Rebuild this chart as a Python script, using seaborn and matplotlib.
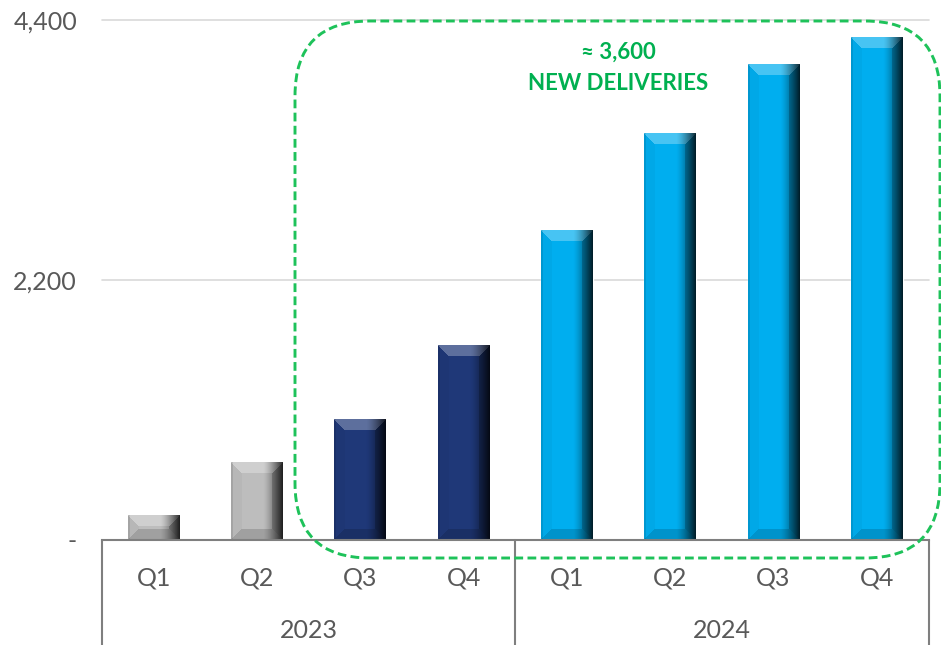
import numpy as np
import pandas as pd
import matplotlib
matplotlib.use('Agg')
import matplotlib.pyplot as plt
import seaborn as sns
from matplotlib.patches import FancyBboxPatch
from matplotlib.transforms import IdentityTransform

# ---- data ----
years = ['2023', '2023', '2023', '2023', '2024', '2024', '2024', '2024']
quarters = ['Q1', 'Q2', 'Q3', 'Q4', 'Q1', 'Q2', 'Q3', 'Q4']
values = [210, 655, 1020, 1645, 2615, 3440, 4025, 4250]
bar_colors = ['#BDBDBD', '#BDBDBD', '#1F3878', '#1F3878',
              '#00AEEF', '#00AEEF', '#00AEEF', '#00AEEF']
yticks = [0, 2200, 4400]
ytick_labels = ['-', '2,200', '4,400']
annotation = ['≈ 3,600', 'NEW DELIVERIES']

sns.set_theme(style='white')
plt.rcParams['font.family'] = ['Lato', 'DejaVu Sans']

W, H = 941, 645
fig = plt.figure(figsize=(W / 100, H / 100), dpi=100)
ax_left, ax_right, ax_top, ax_bottom = 102, 928.5, 20, 540
ax = fig.add_axes([ax_left / W, 1 - ax_bottom / H,
                   (ax_right - ax_left) / W, (ax_bottom - ax_top) / H])

df = pd.DataFrame({'key': [f'{y} {q}' for y, q in zip(years, quarters)],
                   'value': values})
sns.barplot(data=df, x='key', y='value', hue='key', palette=bar_colors,
            width=0.5, legend=False, ax=ax, saturation=1, zorder=2)

ax.set_xlim(-0.5, len(values) - 0.5)
ax.set_ylim(0, yticks[-1])

# bevel shading on each bar
for p in list(ax.patches):
    bb = p.get_bbox()
    x0, y0, x1, y1 = bb.x0, bb.y0, bb.x1, bb.y1
    (dx0, dy0), (dx1, dy1) = ax.transData.transform([[x0, y0], [x1, y1]])
    pw = max(int(round(dx1 - dx0)), 2)
    ph = max(int(round(dy1 - dy0)), 2)
    base = np.array(p.get_facecolor()[:3])
    i = np.arange(ph)[:, None] * np.ones((1, pw))
    j = np.ones((ph, 1)) * np.arange(pw)[None, :]
    dt, db, dl, dr = i, ph - 1 - i, j, pw - 1 - j
    stack = np.stack([dt, db, dl, dr])
    reg = np.argmin(stack, axis=0)
    mn = np.min(stack, axis=0)
    b = min(11, ph // 2, pw // 2)
    img = np.ones((ph, pw, 3)) * base
    top = (reg == 0) & (mn < b)
    bot = (reg == 1) & (mn < b)
    lef = (reg == 2) & (mn < b)
    rig = (reg == 3) & (mn < b)
    img[top] = base + (1 - base) * 0.28
    img[bot] = base * 0.85
    img[lef] = base * 0.97
    img[rig] = base * 0.8
    t = j / (pw - 1)
    f = np.where(t > 0.62, 1 - 0.78 * ((t - 0.62) / 0.38) ** 1.4, 1.0)
    f = f * np.where(t < 0.03, 0.9, 1.0)
    img = np.clip(img * f[..., None], 0, 1)
    ax.imshow(img, extent=(x0, x1, y0, y1), aspect='auto',
              interpolation='nearest', zorder=3, origin='upper')

ax.set_xlim(-0.5, len(values) - 0.5)
ax.set_ylim(0, yticks[-1])

# axes styling
for s in ['top', 'right', 'left']:
    ax.spines[s].set_visible(False)
ax.spines['bottom'].set_color('#7F7F7F')
ax.spines['bottom'].set_linewidth(1.5)
ax.spines['bottom'].set_zorder(4)
ax.set_xticks([])
ax.set_xlabel('')
ax.set_ylabel('')
ax.set_yticks(yticks, ytick_labels)
ax.tick_params(axis='y', length=0, pad=18, labelsize=18, labelcolor='#595959')
for yv in yticks[1:]:
    ax.axhline(yv, color='#D9D9D9', lw=1.2, zorder=0, clip_on=False)

# multi-level category axis
trans = ax.get_xaxis_transform()
axh = ax_bottom - ax_top
bounds = [-0.5] + [k + 0.5 for k in range(len(years) - 1) if years[k] != years[k + 1]] + [len(years) - 0.5]
for xv in bounds:
    ax.plot([xv, xv], [0, -(H - ax_bottom) / axh], transform=trans,
            color='#7F7F7F', lw=1.5, clip_on=False)
for k, q in enumerate(quarters):
    ax.text(k, -38 / axh, q, transform=trans, ha='center', va='center',
            fontsize=18, color='#595959')
for yr in dict.fromkeys(years):
    pos = [k for k, y in enumerate(years) if y == yr]
    ax.text(np.mean(pos), -90 / axh, yr, transform=trans, ha='center',
            va='center', fontsize=18, color='#595959')

# annotation
ax.text(4.5, 4128, annotation[0], ha='center', va='center', fontsize=16,
        fontweight='bold', color='#00B050')
ax.text(4.5, 3866, annotation[1], ha='center', va='center', fontsize=16,
        fontweight='bold', color='#00B050')

box = FancyBboxPatch((295, H - 558), 645, 537,
                     boxstyle='round,pad=0,rounding_size=75',
                     transform=IdentityTransform(), fill=False,
                     ec='#1EC25A', lw=2.1, ls=(0, (3.0, 1.5)), zorder=5)
fig.add_artist(box)

fig.savefig('out.png', dpi=100)
